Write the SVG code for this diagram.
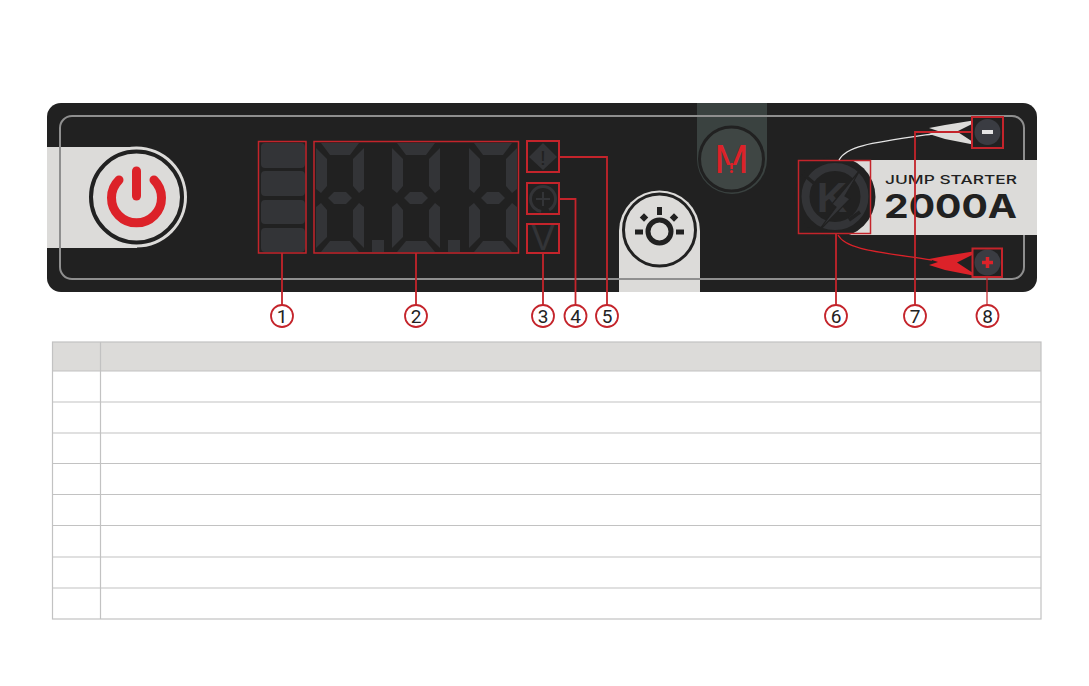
<svg xmlns="http://www.w3.org/2000/svg" xmlns:xlink="http://www.w3.org/1999/xlink" width="1089" height="686" viewBox="0 0 1089 686">
<style>
.seg{fill:#333437}
.box{fill:none;stroke:#c4242b;stroke-width:1.5}
.boxb{fill:none;stroke:#c4242b;stroke-width:2}
.lead{fill:none;stroke:#c4242b;stroke-width:1.8}
.badge{fill:#fff;stroke:#c4242b;stroke-width:1.8}
.num{font-family:Roboto,"Liberation Sans",sans-serif;font-size:19px;fill:#222;text-anchor:middle}
.tbl{fill:none;stroke:#c2c2c2;stroke-width:1.2}
.light{fill:#dcdbd9}
.ink{fill:#212121}
</style>
<defs>
<g id="digit">
<polygon class="seg" points="6,1 44,1 35,13 15,13"/>
<polygon class="seg" points="1,6 12,17 12,44 6,51 1,47"/>
<polygon class="seg" points="49,6 38,17 38,44 44,51 49,47"/>
<polygon class="seg" points="13,56 19,50 31,50 37,56 31,62 19,62"/>
<polygon class="seg" points="1,65 6,61 12,68 12,95 1,106"/>
<polygon class="seg" points="49,65 44,61 38,68 38,95 49,106"/>
<polygon class="seg" points="15,99 35,99 44,110 6,110"/>
</g>
<path id="clamp" d="M929,128 L945,125 L973,120.500 L973,123.500 L957,131.500 L973,142 L973,144.500 L945,139 L929,134 L938,131 Z"/>
</defs>

<g id="panel">
<rect x="47" y="103" width="990" height="189" rx="14" fill="#212121"/>
<rect x="47" y="147" width="90" height="101" class="light"/>
<path d="M619,292 V231 A40.5,40.5 0 0 1 700,231 V292 Z" class="light"/>
<path d="M697,103 H767 V159 A35,35 0 0 1 697,159 Z" fill="#3a4240"/>
<rect x="60" y="116" width="964" height="163" rx="12" fill="none" stroke="#8f8f8f" stroke-width="2"/>
<rect x="835" y="160" width="202" height="75" class="light"/>
</g>

<g id="power-button">
<circle cx="136.5" cy="197" r="50.5" class="light"/>
<circle cx="136.5" cy="197" r="45.5" fill="none" stroke="#212121" stroke-width="4"/>
<path d="M119,180 A25,25 0 1 0 154,180" fill="none" stroke="#dc2229" stroke-width="9" stroke-linecap="round"/>
<line x1="136.5" y1="171" x2="136.5" y2="196" stroke="#dc2229" stroke-width="9" stroke-linecap="round"/>
</g>

<g id="node-1">
<rect x="261" y="143" width="44" height="25" rx="4" class="seg"/>
<rect x="261" y="171" width="44" height="25" rx="4" class="seg"/>
<rect x="261" y="200" width="44" height="24" rx="4" class="seg"/>
<rect x="261" y="228" width="44" height="24" rx="4" class="seg"/>
<rect x="258.500" y="141.500" width="47.500" height="111.500" class="box"/>
</g>

<g id="node-2">
<use xlink:href="#digit" href="#digit" x="315" y="142"/>
<use xlink:href="#digit" href="#digit" x="391" y="142"/>
<use xlink:href="#digit" href="#digit" x="468" y="142"/>
<rect x="372" y="240" width="12" height="12" class="seg"/>
<rect x="448" y="240" width="12" height="12" class="seg"/>
<rect x="314" y="141.500" width="204.500" height="111.500" class="box"/>
</g>

<g id="node-5">
<polygon class="seg" points="543,143 557,157 543,170 529,157"/>
<text x="543" y="165" font-family="'Liberation Sans',sans-serif" font-size="21" text-anchor="middle" fill="#212121">!</text>
<rect x="527" y="141" width="32" height="31" class="boxb"/>
</g>

<g id="node-4">
<circle cx="543" cy="199" r="12.500" fill="none" stroke="#333437" stroke-width="3" stroke-dasharray="62 8" transform="rotate(135 543 199)"/>
<path d="M536,199 H550 M543,192 V206" stroke="#333437" stroke-width="2" fill="none"/>
<rect x="527" y="183" width="32" height="31" class="boxb"/>
</g>

<g id="node-3">
<text x="543" y="250" font-family="'Liberation Sans',sans-serif" font-size="36" text-anchor="middle" fill="#333437">V</text>
<rect x="527" y="224" width="32" height="29" class="boxb"/>
</g>

<g id="mode-button">
<circle cx="731.500" cy="159" r="32" fill="#3f4644" stroke="#212121" stroke-width="3"/>
<text x="731.500" y="173" font-family="Roboto,'Liberation Sans',sans-serif" font-size="39" text-anchor="middle" fill="#dc2229" textLength="34" lengthAdjust="spacingAndGlyphs">M</text>
<rect x="722" y="165" width="19" height="9" fill="#3f4644"/>
<rect x="730.500" y="163" width="2.500" height="6" fill="#dc2229"/>
<circle cx="731.700" cy="171.500" r="1.500" fill="#dc2229"/>
</g>

<g id="light-button">
<circle cx="659.500" cy="230" r="36" fill="none" stroke="#212121" stroke-width="3"/>
<circle cx="659.500" cy="231.500" r="11.500" fill="none" stroke="#212121" stroke-width="5"/>
<rect x="657" y="207" width="5" height="8" class="ink"/>
<rect x="635" y="229.500" width="8" height="5" class="ink"/>
<rect x="676" y="229.500" width="8" height="5" class="ink"/>
<rect x="641" y="214.500" width="6" height="6" class="ink" transform="rotate(45 644 217.500)"/>
<rect x="671" y="214.500" width="6" height="6" class="ink" transform="rotate(45 674 217.500)"/>
</g>

<g id="node-6">
<circle cx="835" cy="197" r="40.500" fill="#212121"/>
<circle cx="835" cy="196.500" r="29.500" fill="none" stroke="#333437" stroke-width="8"/>
<path d="M803,174 L815,184 M860,212 L849,220" stroke="#212121" stroke-width="3.500" fill="none"/>
<text x="832" y="212" font-family="'Liberation Sans',sans-serif" font-weight="700" font-size="42" text-anchor="middle" fill="#333437">K</text>
<polygon points="860,170 845,196 850,199 817,233 836,207 832,204" fill="#333437" stroke="#212121" stroke-width="1.200"/>
<rect x="798.500" y="160.500" width="72" height="73" class="box"/>
</g>

<g id="brand">
<text x="885" y="183.500" font-family="Inter,'DejaVu Sans',sans-serif" font-size="12" font-weight="500" fill="#212121" textLength="132" lengthAdjust="spacingAndGlyphs">JUMP STARTER</text>
<text x="884" y="218" font-family="Inter,'DejaVu Sans',sans-serif" font-size="32.500" font-weight="700" fill="#212121" textLength="133" lengthAdjust="spacingAndGlyphs">2000A</text>
</g>

<g id="node-7">
<use xlink:href="#clamp" href="#clamp" fill="#dcdbd9"/>
<circle cx="987.500" cy="132" r="13" fill="#3a3c42"/>
<rect x="982" y="130" width="11" height="4" fill="#e4e4e4"/>
<rect x="972" y="117" width="31" height="31" class="boxb"/>
</g>

<g id="node-8">
<use xlink:href="#clamp" href="#clamp" y="131" fill="#dc2229"/>
<circle cx="987.500" cy="262.500" r="13" fill="#3a3c42"/>
<path d="M982,262.500 H993 M987.500,257 V268" stroke="#dc2229" stroke-width="3.500" fill="none"/>
<rect x="972.500" y="248.500" width="29.500" height="28.500" class="boxb"/>
</g>

<g id="connectors">
<path d="M839,160 C846,146 870,143 932,134" fill="none" stroke="#e4e4e4" stroke-width="1.300"/>
<path d="M838,235 C846,250 880,252 932,260" fill="none" stroke="#dc2229" stroke-width="1.300"/>
<path class="lead" d="M282,253 V305"/>
<path class="lead" d="M416,253 V305"/>
<path class="lead" d="M543,253 V305"/>
<path class="lead" d="M559,199 H575.500 V305"/>
<path class="lead" d="M559,157 H607 V305"/>
<path class="lead" d="M836,234 V305"/>
<path class="lead" d="M972,132 H915 V305"/>
<path class="lead" d="M987,277 V305" style="stroke-width:1.200"/>
</g>

<g id="badge-1"><circle cx="282" cy="316" r="11" class="badge"/><text x="282" y="323" class="num">1</text></g>
<g id="badge-2"><circle cx="416" cy="316" r="11" class="badge"/><text x="416" y="323" class="num">2</text></g>
<g id="badge-3"><circle cx="543" cy="316" r="11" class="badge"/><text x="543" y="323" class="num">3</text></g>
<g id="badge-4"><circle cx="575.500" cy="316" r="11" class="badge"/><text x="575.500" y="323" class="num">4</text></g>
<g id="badge-5"><circle cx="607" cy="316" r="11" class="badge"/><text x="607" y="323" class="num">5</text></g>
<g id="badge-6"><circle cx="836" cy="316" r="11" class="badge"/><text x="836" y="323" class="num">6</text></g>
<g id="badge-7"><circle cx="915" cy="316" r="11" class="badge"/><text x="915" y="323" class="num">7</text></g>
<g id="badge-8"><circle cx="987.500" cy="316" r="11" class="badge"/><text x="987.500" y="323" class="num">8</text></g>

<g id="table">
<rect x="52.500" y="342" width="988.500" height="29" class="light"/>
<rect x="52.500" y="342" width="988.500" height="277" class="tbl"/>
<path class="tbl" d="M100.500,342 V619 M52.500,371 H1041 M52.500,402 H1041 M52.500,433 H1041 M52.500,463.500 H1041 M52.500,494.500 H1041 M52.500,525.500 H1041 M52.500,557 H1041 M52.500,588 H1041"/>
</g>
</svg>
